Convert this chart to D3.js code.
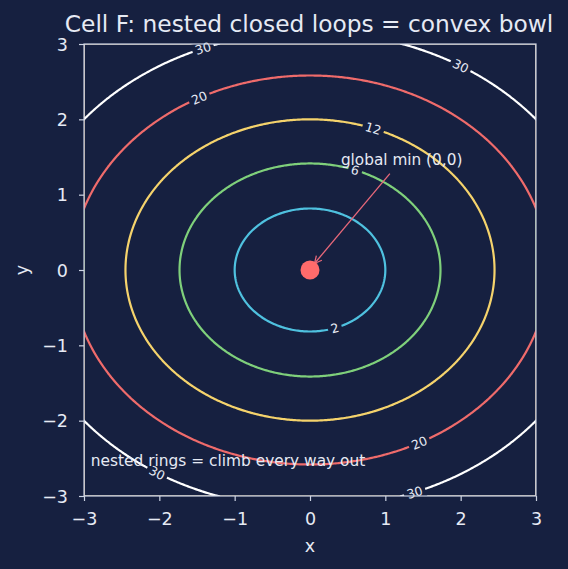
<!DOCTYPE html>
<html><head><meta charset="utf-8">
<script src="https://cdn.jsdelivr.net/npm/d3@7"></script>
<style>
html,body{margin:0;padding:0;background:#162040;}
svg{display:block;font-family:"DejaVu Sans",sans-serif;}
</style></head>
<body><svg id="c" width="568" height="569"></svg>
<script>
// ---- data ----
const xDomain = [-3, 3];
const yDomain = [-3, 3];
const tickValues = [-3, -2, -1, 0, 1, 2, 3];
const bowlCoefs = [2, 3];            // f(x,y) = a*x^2 + b*y^2
const levels = [2, 6, 12, 20, 30];
const levelColors = ["#4fc1df", "#7fd07b", "#f5d36c", "#ef6b6b", "#ffffff"];
const labelLevels = [30, 30, 20, 12, 6, 2, 20, 30, 30];
const labelXs = [-1.42, 2.0, -1.47, 0.84, 0.6, 0.33, 1.45, -2.03, 1.39];
const labelSides = [1, 1, 1, 1, 1, -1, -1, -1, -1];
const minPoint = [0, 0];
const titleText = "Cell F: nested closed loops = convex bowl";
const annText = "global min (0,0)";
const noteText = "nested rings = climb every way out";

// ---- layout ----
const W = 568, H = 569;
const m = {l: 84, r: 32, t: 44, b: 73};
const iw = W - m.l - m.r, ih = H - m.t - m.b;
const fg = "#e6eaf4", spine = "#ccd3e3", bg = "#162040";

const svg = d3.select("#c");
svg.append("rect").attr("width", W).attr("height", H).attr("fill", bg);
const g = svg.append("g").attr("transform", `translate(${m.l},${m.t})`);
const x = d3.scaleLinear().domain(xDomain).range([0, iw]);
const y = d3.scaleLinear().domain(yDomain).range([ih, 0]);

const f = (a, b) => bowlCoefs[0] * a * a + bowlCoefs[1] * b * b;

// grid
const n = 301;
const vals = new Array(n * n);
for (let j = 0; j < n; j++) for (let i = 0; i < n; i++) {
  const xv = xDomain[0] + (xDomain[1] - xDomain[0]) * i / (n - 1);
  const yv = yDomain[0] + (yDomain[1] - yDomain[0]) * j / (n - 1);
  vals[j * n + i] = f(xv, yv);
}
const contours = d3.contours().size([n, n]).thresholds(levels)(vals);
const proj = d3.geoTransform({point: function(px, py) {
  const xv = xDomain[0] + (xDomain[1] - xDomain[0]) * (px - 0.5) / (n - 1);
  const yv = yDomain[0] + (yDomain[1] - yDomain[0]) * (py - 0.5) / (n - 1);
  this.stream.point(x(xv), y(yv));
}});
const path = d3.geoPath(proj);

// label geometry
const labels = labelLevels.map((L, k) => {
  const xv = labelXs[k];
  const yv = labelSides[k] * Math.sqrt(Math.max(0, (L - bowlCoefs[0] * xv * xv) / bowlCoefs[1]));
  const gx = 2 * bowlCoefs[0] * xv, gy = 2 * bowlCoefs[1] * yv;
  let tx = -gy * (x(1) - x(0)), ty = gx * (y(1) - y(0));
  let ang = Math.atan2(ty, tx) * 180 / Math.PI;
  if (ang > 90) ang -= 180;
  if (ang < -90) ang += 180;
  return {L, px: x(xv), py: y(yv), ang};
});

// clip + mask
const defs = svg.append("defs");
defs.append("clipPath").attr("id", "clip").append("rect").attr("width", iw).attr("height", ih);
const mask = defs.append("mask").attr("id", "lblmask").attr("maskUnits", "userSpaceOnUse")
  .attr("x", -50).attr("y", -50).attr("width", iw + 100).attr("height", ih + 100);
mask.append("rect").attr("x", -50).attr("y", -50).attr("width", iw + 100).attr("height", ih + 100).attr("fill", "#fff");
labels.forEach(d => {
  const w = String(d.L).length * 8 + 6;
  mask.append("rect").attr("x", -w / 2).attr("y", -7).attr("width", w).attr("height", 14)
    .attr("fill", "#000").attr("transform", `translate(${d.px},${d.py}) rotate(${d.ang})`);
});

const cg = g.append("g").attr("clip-path", "url(#clip)");
cg.append("g").attr("mask", "url(#lblmask)").selectAll("path").data(contours).join("path")
  .attr("d", d => path(d)).attr("fill", "none")
  .attr("stroke", d => levelColors[levels.indexOf(d.value)])
  .attr("stroke-width", 2.2);

g.append("g").selectAll("text").data(labels).join("text")
  .attr("transform", d => `translate(${d.px},${d.py}) rotate(${d.ang})`)
  .attr("text-anchor", "middle").attr("dy", "0.36em")
  .attr("fill", fg).attr("font-size", 12.5).text(d => d.L);

// annotation arrow
const ax0 = x(minPoint[0]), ay0 = y(minPoint[1]);
const tx0 = x(1.06), ty0 = y(1.28);
defs.append("marker").attr("id", "arr").attr("viewBox", "0 0 10 10").attr("refX", 9).attr("refY", 5)
  .attr("markerWidth", 9).attr("markerHeight", 9).attr("orient", "auto-start-reverse")
  .attr("markerUnits", "userSpaceOnUse")
  .append("path").attr("d", "M1,1 L9,5 L1,9").attr("fill", "none").attr("stroke", "#e8687a").attr("stroke-width", 1.4);
g.append("line").attr("x1", tx0).attr("y1", ty0).attr("x2", ax0 + 4.5).attr("y2", ay0 - 6.5)
  .attr("stroke", "#e8687a").attr("stroke-width", 1.3).attr("marker-end", "url(#arr)");

// min dot
g.append("circle").attr("cx", ax0).attr("cy", ay0).attr("r", 9.5).attr("fill", "#ff6b6b");

g.append("text").attr("x", x(0.41)).attr("y", y(1.40)).attr("fill", fg).attr("font-size", 15.3).text(annText);
g.append("text").attr("x", x(-2.91)).attr("y", y(-2.6)).attr("fill", fg).attr("font-size", 15.4).text(noteText);

// axes
const fmt = d3.format("d");
const xa = g.append("g").attr("transform", `translate(0,${ih})`).call(d3.axisBottom(x).tickValues(tickValues).tickFormat(fmt).tickSize(5).tickPadding(5));
const ya = g.append("g").call(d3.axisLeft(y).tickValues(tickValues).tickFormat(fmt).tickSize(5).tickPadding(5));
[xa, ya].forEach(a => {
  a.select(".domain").remove();
  a.selectAll("line").attr("stroke", spine).attr("stroke-width", 1.2);
  a.selectAll("text").attr("fill", fg).attr("font-size", 17.5).attr("font-family", "DejaVu Sans");
});
xa.selectAll("text").attr("dy", null).attr("y", 29);
ya.selectAll("text").attr("x", -16).attr("dy", "0.36em");
g.append("rect").attr("width", iw).attr("height", ih).attr("fill", "none").attr("stroke", spine).attr("stroke-width", 1.2);

svg.append("text").attr("x", m.l + iw / 2).attr("y", 552).attr("text-anchor", "middle").attr("fill", fg).attr("font-size", 17.5).text("x");
svg.append("text").attr("transform", `translate(28,${m.t + ih / 2}) rotate(-90)`).attr("text-anchor", "middle").attr("fill", fg).attr("font-size", 17.5).text("y");
svg.append("text").attr("x", 309).attr("y", 32).attr("text-anchor", "middle").attr("fill", fg).attr("font-size", 23.3).text(titleText);
</script></body></html>
